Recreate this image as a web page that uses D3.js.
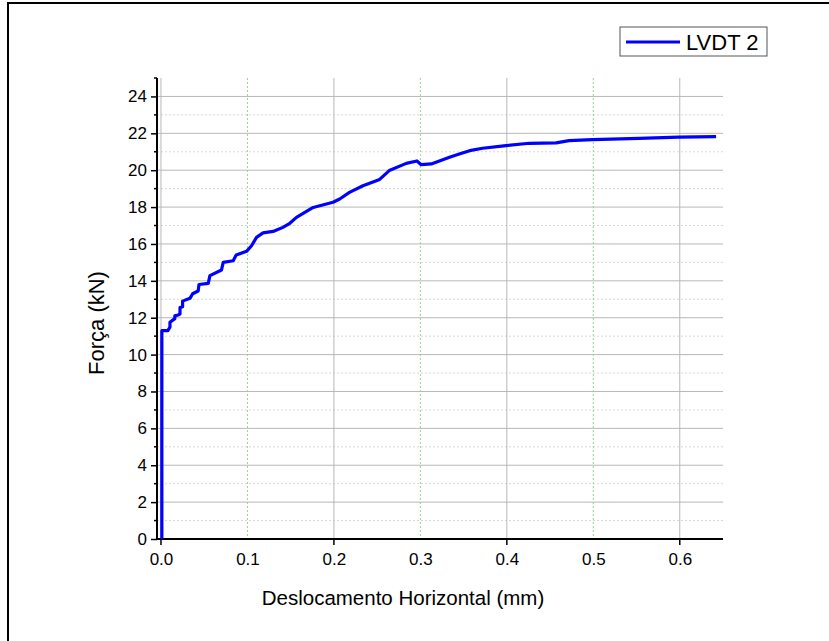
<!DOCTYPE html>
<html lang="en">
<head>
<meta charset="UTF-8">
<title>LVDT 2</title>
<script src="https://cdnjs.cloudflare.com/ajax/libs/d3/7.8.5/d3.min.js"></script>
<style>
  body { margin: 0; background: #fff; }
  text { font-family: "Liberation Sans", Arial, sans-serif; fill: #000; }
</style>
</head>
<body>
<div id="chart"></div>
<script>
    // displacement (mm) / force (kN)
    var desloc = [0.001, 0.001, 0.008, 0.0104, 0.0104, 0.016, 0.016, 0.020, 0.022, 0.022, 0.025, 0.025,
        0.0335, 0.0366, 0.043, 0.044, 0.0547, 0.0566, 0.070, 0.072, 0.0835, 0.087, 0.099, 0.1047,
        0.1105, 0.118, 0.1297, 0.141, 0.149, 0.1567, 0.176, 0.199, 0.2067, 0.218, 0.2336, 0.2529,
        0.264, 0.2837, 0.296, 0.301, 0.3126, 0.322, 0.3337, 0.345, 0.357, 0.372, 0.399, 0.426,
        0.457, 0.472, 0.499, 0.553, 0.599, 0.642];
    var forca = [0, 11.3, 11.3, 11.5, 11.75, 11.95, 12.1, 12.15, 12.2, 12.55, 12.6, 12.9,
        13.05, 13.3, 13.45, 13.8, 13.86, 14.28, 14.59, 15.0, 15.09, 15.4, 15.6, 15.9,
        16.36, 16.6, 16.68, 16.9, 17.12, 17.44, 17.98, 18.26, 18.44, 18.8, 19.16, 19.5,
        19.98, 20.37, 20.5, 20.3, 20.34, 20.5, 20.7, 20.88, 21.06, 21.19, 21.33, 21.46,
        21.48, 21.6, 21.66, 21.73, 21.79, 21.82];

    var xLabels = [0, 0.1, 0.2, 0.3, 0.4, 0.5, 0.6];
    var xMajor = [0, 0.2, 0.4, 0.6];
    var xMinor = [0.1, 0.3, 0.5];
    var yLabels = [0, 2, 4, 6, 8, 10, 12, 14, 16, 18, 20, 22, 24];
    var yMinor = [1, 3, 5, 7, 9, 11, 13, 15, 17, 19, 21, 23, 25];

    var width = 829, height = 641;
    var mLeft = 157, mRight = 723, mTop = 78, mBottom = 539;

    var svg = d3.select("#chart").append("svg")
        .attr("width", width)
        .attr("height", height);

    svg.append("rect").attr("width", width).attr("height", height).attr("fill", "#fff");

    // outer frame of the figure
    svg.append("rect")
        .attr("x", 8).attr("y", 3)
        .attr("width", 840).attr("height", 660)
        .attr("fill", "none").attr("stroke", "#000").attr("stroke-width", 2);

    var x = d3.scaleLinear().domain([-0.0046, 0.65]).range([mLeft, mRight]);
    var y = d3.scaleLinear().domain([0, 25]).range([mBottom, mTop]);

    // grid
    var grid = svg.append("g");
    grid.selectAll(".ymin").data(yMinor.filter(function(d) { return d < 25; })).enter()
        .append("line")
        .attr("x1", mLeft).attr("x2", mRight)
        .attr("y1", function(d) { return y(d); }).attr("y2", function(d) { return y(d); })
        .attr("stroke", "#d8d8d8").attr("stroke-dasharray", "2,2");
    grid.selectAll(".ymaj").data(yLabels.slice(1)).enter()
        .append("line")
        .attr("x1", mLeft).attr("x2", mRight)
        .attr("y1", function(d) { return y(d); }).attr("y2", function(d) { return y(d); })
        .attr("stroke", "#b8b8b8");
    grid.selectAll(".xmin").data(xMinor).enter()
        .append("line")
        .attr("y1", mTop).attr("y2", mBottom)
        .attr("x1", function(d) { return x(d); }).attr("x2", function(d) { return x(d); })
        .attr("stroke", "#8fd88f").attr("stroke-dasharray", "2,2");
    grid.selectAll(".xmaj").data(xMajor).enter()
        .append("line")
        .attr("y1", mTop).attr("y2", mBottom)
        .attr("x1", function(d) { return x(d); }).attr("x2", function(d) { return x(d); })
        .attr("stroke", "#b8b8b8");

    // axes
    var xAxis = d3.axisBottom(x).tickValues(xLabels).tickSize(0).tickPadding(14)
        .tickFormat(d3.format(".1f"));
    var gx = svg.append("g").attr("transform", "translate(0," + mBottom + ")").call(xAxis);
    gx.attr("font-size", null).attr("font-family", null);
    gx.select(".domain").remove();
    gx.selectAll("text").style("font-size", "17px");
    svg.append("g").selectAll("line").data(xMajor).enter()
        .append("line")
        .attr("x1", function(d) { return x(d); }).attr("x2", function(d) { return x(d); })
        .attr("y1", mBottom).attr("y2", mBottom + 6)
        .attr("stroke", "#000").attr("stroke-width", 1.5);

    var yAxis = d3.axisLeft(y).tickValues(yLabels).tickSize(6).tickPadding(4);
    var gy = svg.append("g").attr("transform", "translate(" + mLeft + ",0)").call(yAxis);
    gy.attr("font-size", null).attr("font-family", null);
    gy.select(".domain").remove();
    gy.selectAll("line").attr("stroke-width", 1.5);
    gy.selectAll("text").style("font-size", "17px");
    svg.append("g").selectAll("line").data(yMinor).enter()
        .append("line")
        .attr("x1", mLeft - 3).attr("x2", mLeft)
        .attr("y1", function(d) { return y(d); }).attr("y2", function(d) { return y(d); })
        .attr("stroke", "#000").attr("stroke-width", 1.5);

    svg.append("line").attr("x1", mLeft).attr("x2", mLeft).attr("y1", mTop).attr("y2", mBottom + 1)
        .attr("stroke", "#000").attr("stroke-width", 2);
    svg.append("line").attr("x1", mLeft - 1).attr("x2", mRight).attr("y1", mBottom).attr("y2", mBottom)
        .attr("stroke", "#000").attr("stroke-width", 2);

    // curve
    var pts = desloc.map(function(d, i) { return [d, forca[i]]; });
    var line = d3.line()
        .x(function(d) { return x(d[0]); })
        .y(function(d) { return y(d[1]); });
    svg.append("path")
        .datum(pts)
        .attr("d", line)
        .attr("fill", "none")
        .attr("stroke", "#0000ff")
        .attr("stroke-width", 3.2)
        .attr("stroke-linejoin", "round");

    // axis titles
    svg.append("text")
        .attr("x", 403).attr("y", 605)
        .attr("text-anchor", "middle")
        .style("font-size", "20.5px")
        .text("Deslocamento Horizontal (mm)");
    svg.append("text")
        .attr("transform", "translate(104,323) rotate(-90)")
        .attr("text-anchor", "middle")
        .style("font-size", "22px")
        .text("Força (kN)");

    // legend
    var lg = svg.append("g");
    lg.append("rect")
        .attr("x", 620).attr("y", 27).attr("width", 147).attr("height", 29)
        .attr("fill", "#fff").attr("stroke", "#555").attr("stroke-width", 1);
    lg.append("line")
        .attr("x1", 626).attr("x2", 680).attr("y1", 42).attr("y2", 42)
        .attr("stroke", "#0000ff").attr("stroke-width", 3);
    lg.append("text")
        .attr("x", 686).attr("y", 50)
        .style("font-size", "22px")
        .text("LVDT 2");
</script>
</body>
</html>
